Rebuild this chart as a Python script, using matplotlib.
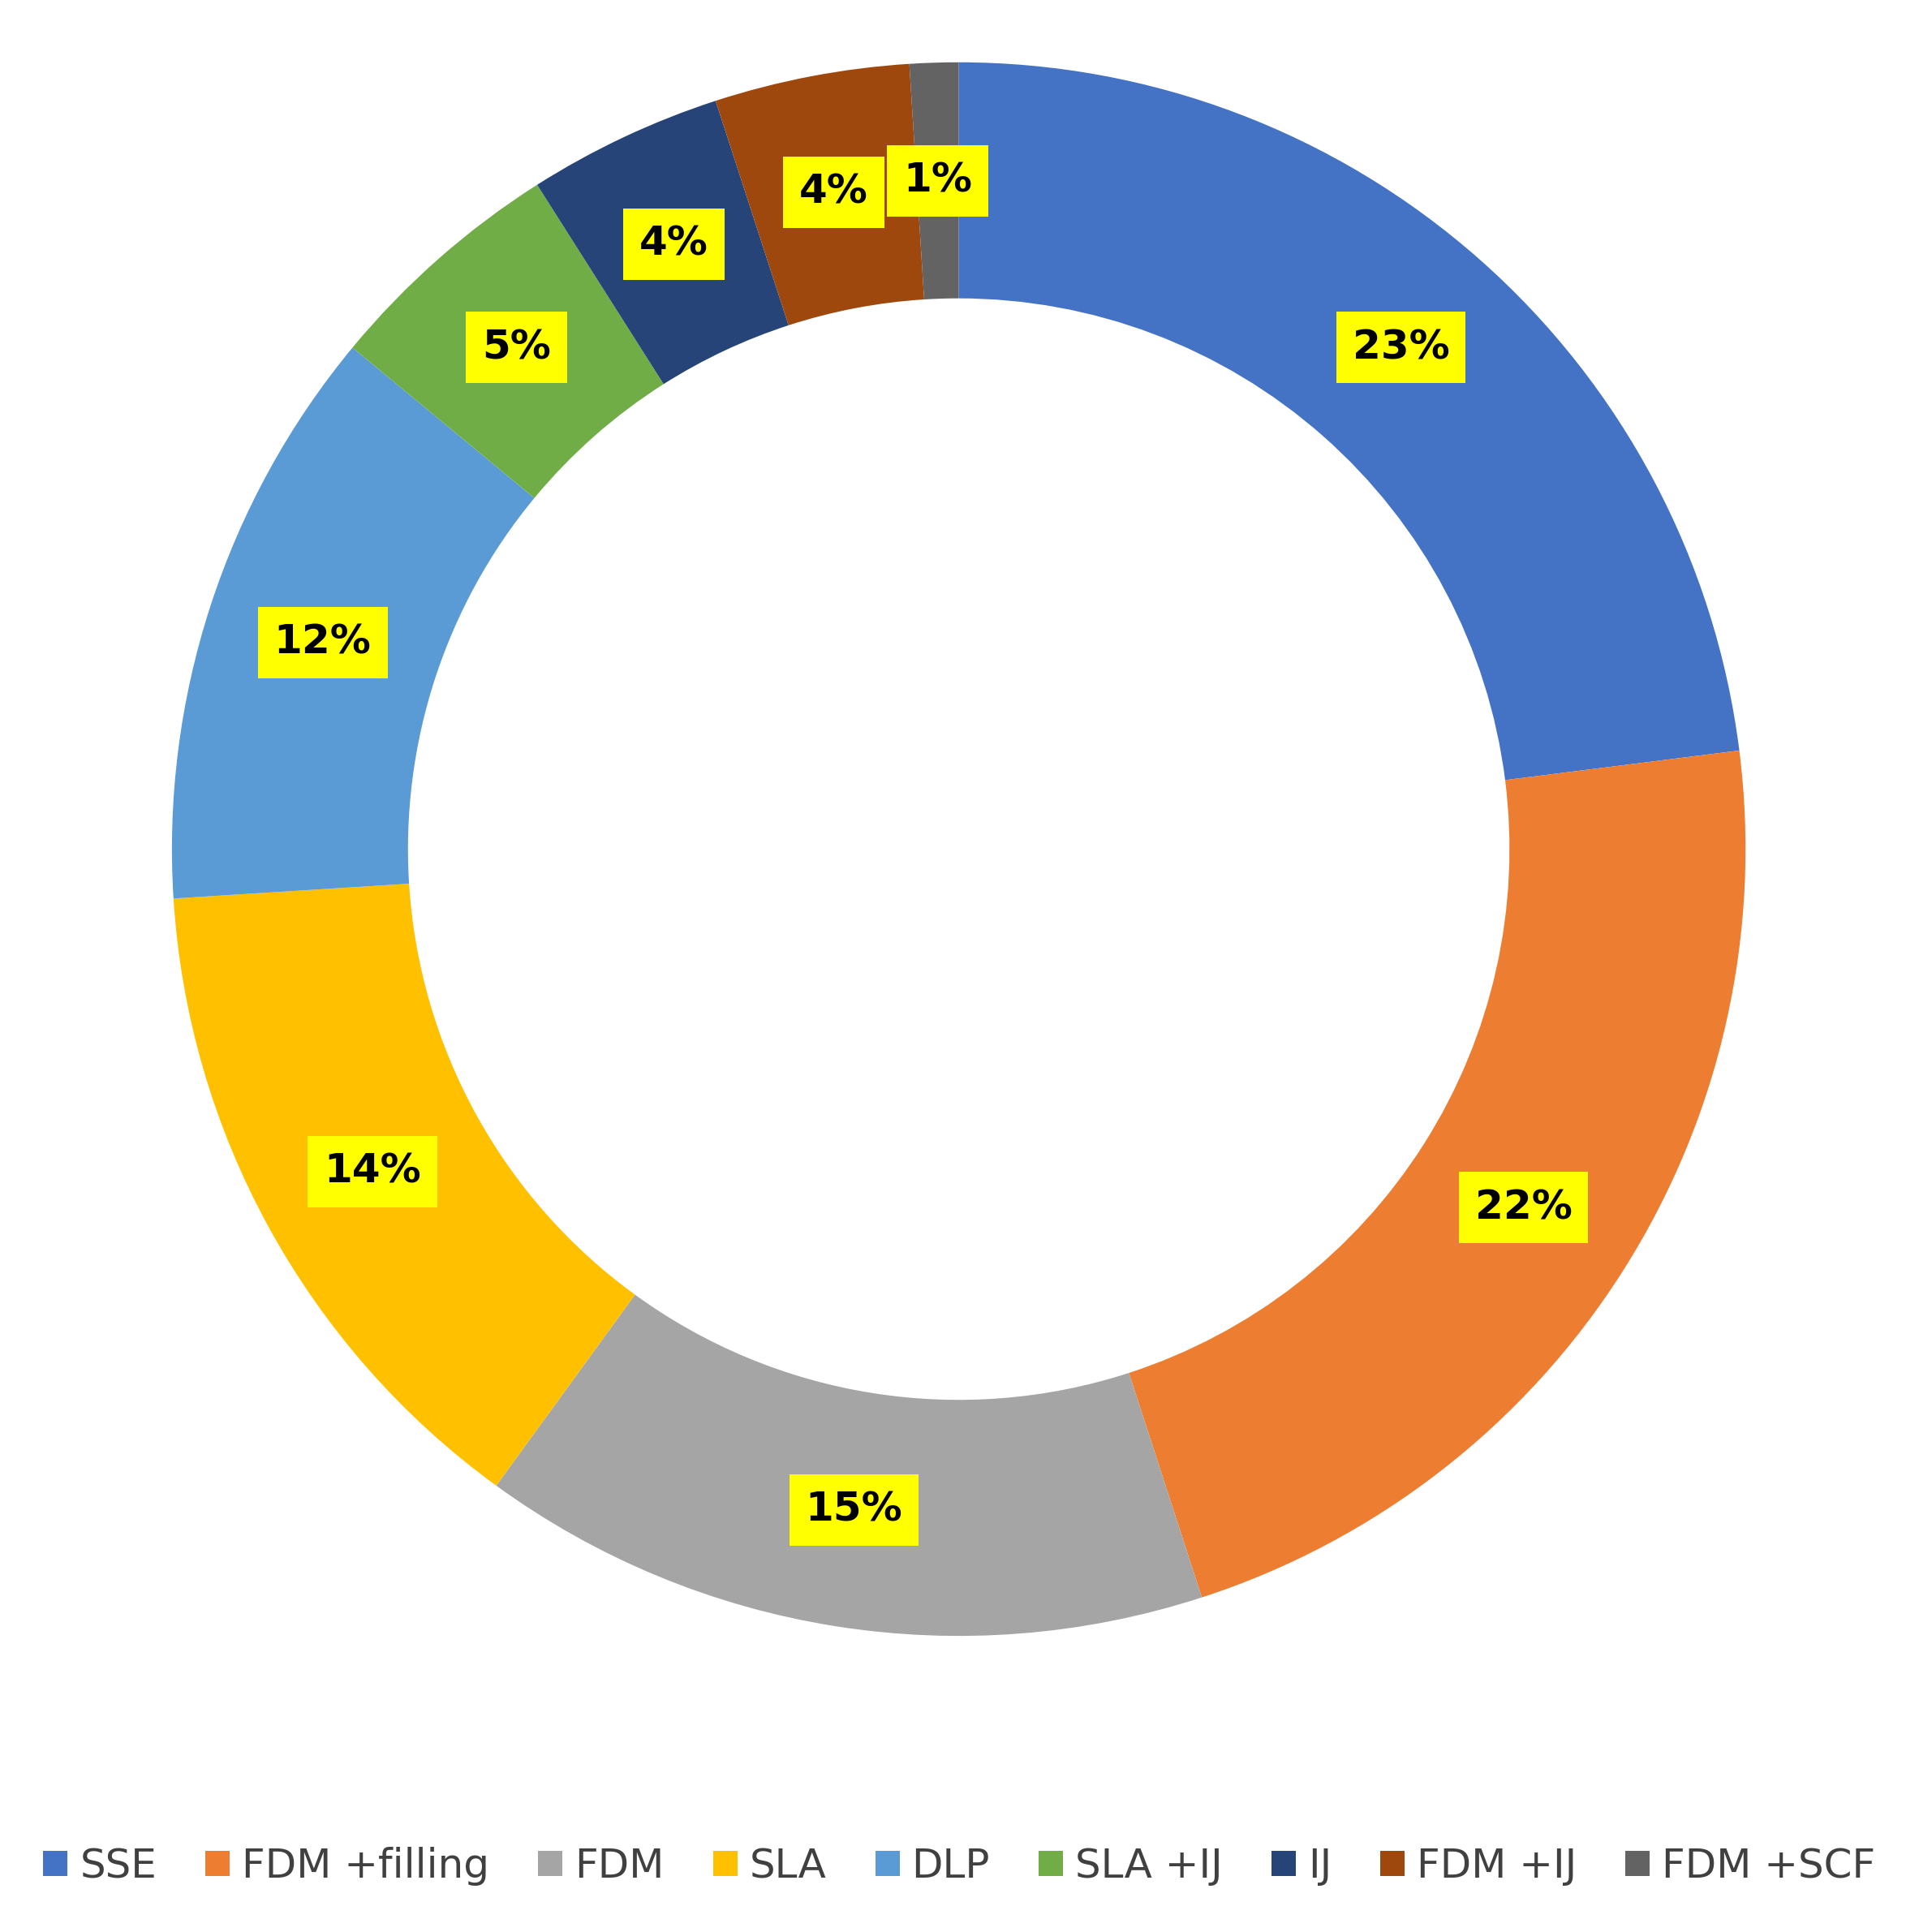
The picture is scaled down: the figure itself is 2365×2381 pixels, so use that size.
import matplotlib
matplotlib.use("Agg")
import matplotlib.pyplot as plt
import numpy as np

categories = ["SSE", "FDM +filling", "FDM", "SLA", "DLP", "SLA +IJ", "IJ", "FDM +IJ", "FDM +SCF"]
values = [23, 22, 15, 14, 12, 5, 4, 4, 1]
labels = ["23%", "22%", "15%", "14%", "12%", "5%", "4%", "4%", "1%"]
colors = ["#4472C4", "#ED7D31", "#A5A5A5", "#FFC000", "#5B9BD5", "#70AD47", "#264478", "#9E480E", "#636363"]

fig = plt.figure(figsize=(23.65, 23.81), dpi=100)
ax = fig.add_axes([0.0896, 0.153, 0.82, 0.815])
wedges, _ = ax.pie(values, colors=colors, startangle=90, counterclock=False,
                   radius=1.0, wedgeprops=dict(width=0.3, edgecolor="none"))
for w, lab in zip(wedges, labels):
    ang = np.deg2rad((w.theta1 + w.theta2) / 2)
    r = 0.85
    ax.text(r*np.cos(ang), r*np.sin(ang), lab, ha="center", va="center",
            fontsize=36, fontweight="bold", color="black",
            bbox=dict(boxstyle="square,pad=0.4", fc="#FFFF00", ec="none"))
ax.set_xlim(-1, 1); ax.set_ylim(-1, 1); ax.set_aspect("equal"); ax.axis("off")

fig.legend(wedges, categories, loc="center", bbox_to_anchor=(0.5, 0.034), ncol=9,
           frameon=False, fontsize=36, handlelength=0.6, handleheight=0.6,
           handletextpad=0.3, columnspacing=1.2, labelcolor="#404040")
fig.savefig("out.png", dpi=100, facecolor="white")
